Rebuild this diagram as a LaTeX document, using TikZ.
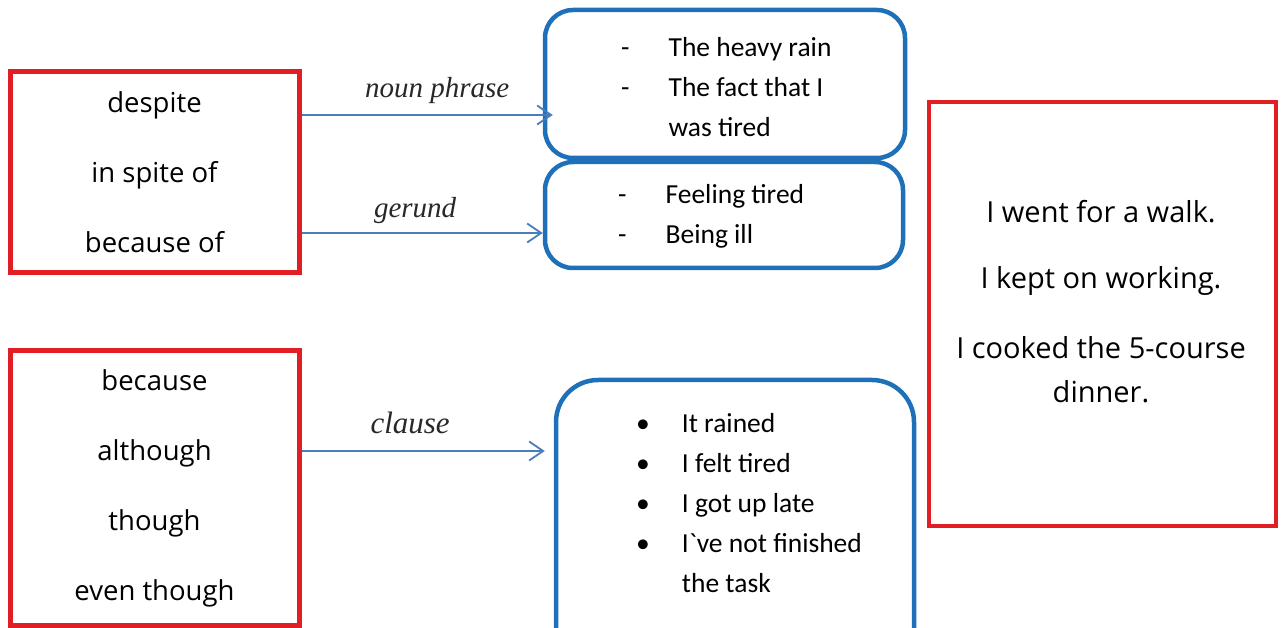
\documentclass[tikz,border=0pt]{standalone}
\usepackage{fontspec}
\newfontfamily\comicfont{Open Sans}
\newfontfamily\listfont{Carlito}
\newfontfamily\labelfont{Liberation Serif}
\usetikzlibrary{arrows.meta,positioning}
\definecolor{boxred}{RGB}{224,30,36}
\definecolor{boxblue}{RGB}{30,112,184}
\definecolor{linkblue}{RGB}{74,126,187}
\definecolor{labelgray}{RGB}{40,40,40}
\begin{document}
\begin{tikzpicture}[x=1pt, y=-1pt,
        redbox/.style={draw=boxred, line width=5pt, inner sep=0pt, align=center,
            font={\comicfont\fontsize{27.5}{70}\selectfont}},
        bluebox/.style={draw=boxblue, line width=4.5pt, rounded corners=28pt, inner sep=0pt},
        listtext/.style={inner sep=0pt, anchor=west, font={\listfont\fontsize{27.5}{40}\selectfont}},
        link/.style={draw=linkblue, line width=1.8pt, -{Straight Barb[length=14pt, width=19pt, line width=1.8pt]}},
        linklabel/.style={text=labelgray, font={\labelfont\itshape\fontsize{29}{31}\selectfont}, inner sep=0pt}
    ]
        \useasboundingbox (0,0) rectangle (1283,628);
        \clip (0,0) rectangle (1283,628);

        % red boxes
        \node[redbox, minimum width=289pt, minimum height=201pt] (prepBox) at (154.5,172.5)
            {despite\\in spite of\\because of};
        \node[redbox, minimum width=289pt, minimum height=274pt] (conjBox) at (154.5,488)
            {because\\although\\though\\even though};
        \node[draw=boxred, line width=3.5pt, minimum width=347pt, minimum height=424pt] (mainBox) at (1102.5,314) {};
        \node[align=center, inner sep=0pt, font={\comicfont\fontsize{29}{44}\selectfont}] (mainText) at (1101,302)
            {I went for a walk.\\[22pt] I kept on working.\\[26pt] I cooked the 5-course\\ dinner.};

        % blue boxes
        \node[bluebox, minimum width=360pt, minimum height=148pt] (nounBox) at (725,84) {};
        \node[bluebox, minimum width=358pt, minimum height=106pt] (gerBox) at (724,215) {};
        \node[bluebox, rounded corners=42pt, minimum width=358pt, minimum height=290pt] (clauseBox) at (735,525) {};

        \node[listtext] (nounList) at (621,89) {\begin{tabular}{@{}l@{\hspace{39pt}}l@{}}
            - & The heavy rain\\
            - & The fact that I\\
              & was tired
        \end{tabular}};
        \node[listtext] (gerList) at (618,215.5) {\begin{tabular}{@{}l@{\hspace{39pt}}l@{}}
            - & Feeling tired\\
            - & Being ill
        \end{tabular}};
        \node[listtext] (clauseList) at (636,504.5) {\begin{tabular}{@{}l@{\hspace{32pt}}l@{}}
            \textbullet & It rained\\
            \textbullet & I felt tired\\
            \textbullet & I got up late\\
            \textbullet & I\textasciigrave ve not finished\\
                        & the task
        \end{tabular}};

        % connectors
        \draw[link] ([yshift=57.5pt]prepBox.east) coordinate (a1) -- ([xshift=10pt]a1 -| nounBox.west)
            node[linklabel, midway, above=10pt, xshift=10pt] (nounLabel) {noun phrase};
        \draw[link] ([yshift=-60.5pt]prepBox.east) coordinate (a2) -- (a2 -| gerBox.west)
            node[linklabel, midway, above=8pt, xshift=-7pt] (gerLabel) {gerund};
        \draw[link] ([yshift=37pt]conjBox.east) coordinate (a3) -- ([xshift=-9pt]a3 -| clauseBox.west)
            node[linklabel, midway, above=16pt, xshift=-13pt, font={\labelfont\itshape\fontsize{31}{33}\selectfont}] (clauseLabel) {clause};
    \end{tikzpicture}
\end{document}
